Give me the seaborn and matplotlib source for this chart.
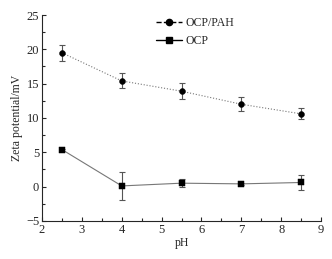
import numpy as np
import matplotlib.pyplot as plt
import seaborn as sns
import pandas as pd
from matplotlib.lines import Line2D

ph = [2.5, 4.0, 5.5, 7.0, 8.5]
pah_mean = [19.5, 15.4, 13.9, 12.0, 10.6]
pah_err = [1.2, 1.1, 1.2, 1.0, 0.8]
ocp_mean = [5.4, 0.1, 0.5, 0.4, 0.6]
ocp_err = [0.15, 2.1, 0.6, 0.15, 1.1]

sns.set_style("ticks")
plt.rcParams['font.family'] = ['Liberation Serif', 'DejaVu Serif']
plt.rcParams['xtick.direction'] = 'in'
plt.rcParams['ytick.direction'] = 'in'

df = pd.DataFrame({'pH': ph + ph,
                   'zeta': pah_mean + ocp_mean,
                   'err': pah_err + ocp_err,
                   'series': ['OCP/PAH'] * 5 + ['OCP'] * 5})

fig = plt.figure(figsize=(3.32, 2.59), dpi=100)
ax = fig.add_axes([0.1265, 0.147, 0.8405, 0.795])

for name, ls, mk in [('OCP/PAH', ':', 'o'), ('OCP', '-', 's')]:
    d = df[df['series'] == name]
    ax.errorbar(d['pH'], d['zeta'], yerr=d['err'], fmt='none', ecolor='#555555',
                elinewidth=0.8, capsize=2, capthick=0.8, zorder=2)
    sns.lineplot(data=d, x='pH', y='zeta', ax=ax, color='#777777', linestyle=ls,
                 linewidth=0.8, zorder=3)
    sns.scatterplot(data=d, x='pH', y='zeta', ax=ax, color='black', marker=mk,
                    s=18, edgecolor='black', zorder=4)

ax.set_xlim(2, 9)
ax.set_ylim(-5, 25)
ax.set_xticks(np.arange(2, 10, 1))
ax.set_yticks(np.arange(-5, 26, 5))
ax.set_yticklabels(['\u22125', '0', '5', '10', '15', '20', '25'])
ax.set_xticks(np.arange(2.5, 9, 1), minor=True)
ax.set_yticks(np.arange(-2.5, 25, 5), minor=True)
ax.tick_params(which='major', length=3, width=0.8, labelsize=9, pad=2)
ax.tick_params(which='minor', length=2, width=0.8)
ax.set_xlabel('pH', fontsize=8.5, labelpad=1)
ax.set_ylabel('Zeta potential/mV', fontsize=8.5, labelpad=2)
sns.despine(ax=ax)

handles = [Line2D([], [], color='black', linestyle='--', marker='o', markersize=4.5, linewidth=1),
           Line2D([], [], color='black', linestyle='-', marker='s', markersize=4.5, linewidth=1)]
ax.legend(handles, ['OCP/PAH', 'OCP'], loc='upper left', bbox_to_anchor=(0.37, 1.04),
          frameon=False, fontsize=8.5, handlelength=2.2, handletextpad=0.3, labelspacing=0.5)

fig.savefig('out.png', dpi=100)
